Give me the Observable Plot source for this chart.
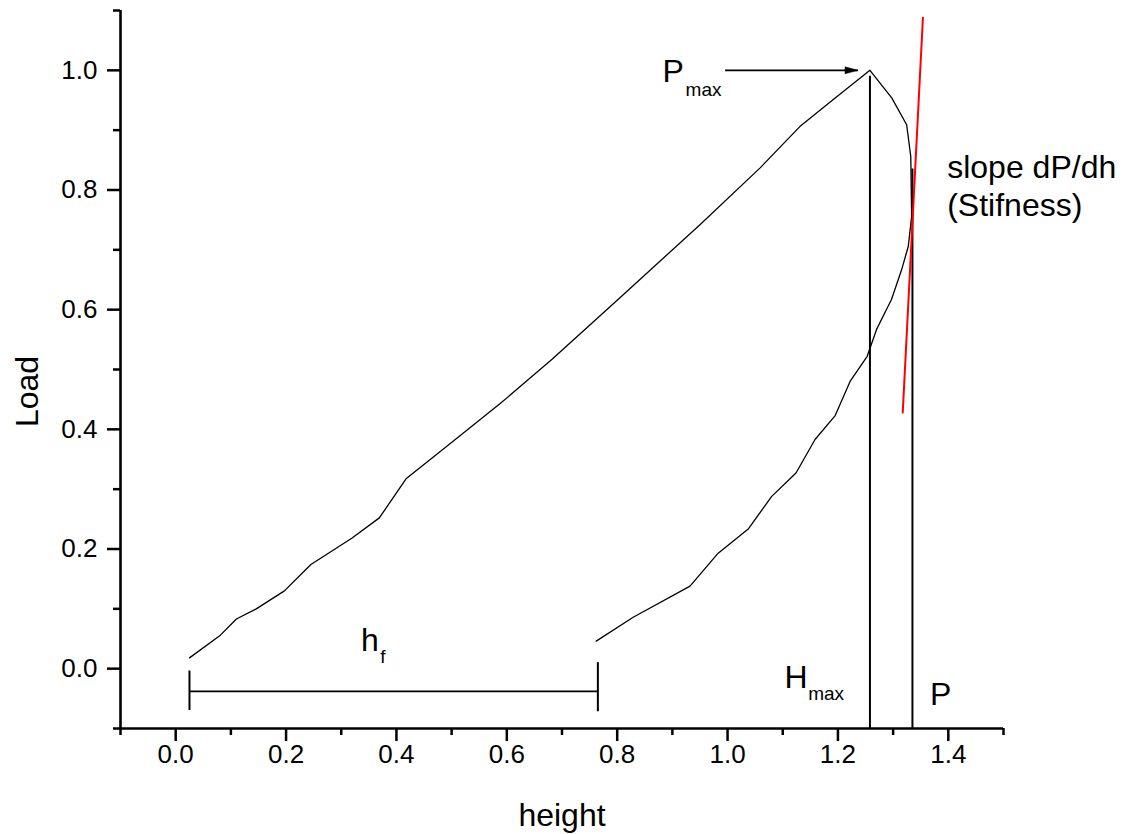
<!DOCTYPE html>
<html>
<head>
<meta charset="utf-8">
<script src="https://cdn.jsdelivr.net/npm/d3@7"></script>
<script src="https://cdn.jsdelivr.net/npm/@observablehq/plot@0.6"></script>
<style>
  body { margin: 0; background: #fff; }
  svg { display: block; }
</style>
</head>
<body>
<div id="chart"></div>
<script>
// ---- data ----
const loadingX = [0.025, 0.081, 0.110, 0.146, 0.197, 0.245, 0.319, 0.369, 0.418, 0.497, 0.588, 0.682, 0.805, 0.950, 1.059, 1.131, 1.191, 1.258];
const loadingY = [0.018, 0.056, 0.083, 0.100, 0.130, 0.174, 0.218, 0.252, 0.318, 0.376, 0.443, 0.517, 0.620, 0.742, 0.837, 0.906, 0.951, 1.000];

const unloadingX = [1.258, 1.2975, 1.3245, 1.332, 1.3335, 1.3275, 1.3155, 1.297, 1.270, 1.253, 1.222, 1.195, 1.1585, 1.124, 1.080, 1.038, 0.983, 0.932, 0.829, 0.762];
const unloadingY = [1.000, 0.954, 0.909, 0.856, 0.756, 0.706, 0.667, 0.617, 0.567, 0.522, 0.480, 0.423, 0.383, 0.327, 0.288, 0.234, 0.193, 0.138, 0.086, 0.046];

const tangentX = [1.3174, 1.354];
const tangentY = [0.428, 1.088];

const markerLineX = [1.258, 1.335];      // Hmax line, P line
const markerLineTop = [0.99, 0.835];

const bracketEnds = [0.025, 0.765];
const bracketCapTop = [-0.004, 0.010];
const bracketCapBottom = [-0.070, -0.072];
const bracketLevel = [-0.038];

const arrowStart = [0.9955];
const arrowTip = [1.2364];
const arrowLevel = [1.0];

const mainLabels = ["P", "h", "H", "P", "slope dP/dh", "(Stifness)"];
const mainLabelX = [0.882, 0.336, 1.103, 1.367, 1.398, 1.398];
const mainLabelY = [0.980, 0.029, -0.032, -0.060, 0.820, 0.757];

const subLabels = ["max", "f", "max"];
const subLabelX = [0.924, 0.3705, 1.146];
const subLabelY = [0.9566, 0.0095, -0.0518];

const xMajorTicks = [0.0, 0.2, 0.4, 0.6, 0.8, 1.0, 1.2, 1.4];
const xMinorTicks = [-0.1, 0.1, 0.3, 0.5, 0.7, 0.9, 1.1, 1.3, 1.5];
const yMajorTicks = [0.0, 0.2, 0.4, 0.6, 0.8, 1.0];
const yMinorTicks = [-0.1, 0.1, 0.3, 0.5, 0.7, 0.9, 1.1];

const xTitle = "height";
const yTitle = "Load";

// ---- build tables for the marks ----
const loading = loadingX.map((x, i) => ({x, y: loadingY[i]}));
const unloading = unloadingX.map((x, i) => ({x, y: unloadingY[i]}));
const tangent = tangentX.map((x, i) => ({x, y: tangentY[i]}));

const rightTriangle = {
  draw(context) {
    context.moveTo(0, 0);
    context.lineTo(-13, -3.5);
    context.lineTo(-13, 3.5);
    context.closePath();
  }
};

const fmt = d3.format(".1f");

const chart = Plot.plot({
  width: 1127,
  height: 834,
  marginLeft: 120,
  marginRight: 124,
  marginTop: 10,
  marginBottom: 106,
  style: {fontFamily: "'Liberation Sans', Arial, Helvetica, sans-serif", background: "#fff", color: "#000"},
  x: {domain: [-0.1, 1.5]},
  y: {domain: [-0.1, 1.1]},
  marks: [
    // axes
    Plot.axisX(xMinorTicks, {tickSize: 7, text: null, strokeWidth: 2.5, label: null}),
    Plot.axisX(xMajorTicks, {tickSize: 13, tickPadding: 3, tickFormat: fmt, fontSize: 26, strokeWidth: 2.5, label: null}),
    Plot.axisY(yMinorTicks, {tickSize: 7, text: null, strokeWidth: 2.5, label: null}),
    Plot.axisY(yMajorTicks, {tickSize: 13, tickPadding: 10, tickFormat: fmt, fontSize: 26, strokeWidth: 2.5, label: null}),
    Plot.ruleX([-0.1], {stroke: "#000", strokeWidth: 2.6}),
    Plot.ruleY([-0.1], {stroke: "#000", strokeWidth: 2.6}),
    Plot.text([xTitle], {text: d => d, frameAnchor: "bottom", textAnchor: "middle", dy: 97, lineAnchor: "bottom", fontSize: 32, fill: "#000"}),
    Plot.text([yTitle], {text: d => d, frameAnchor: "left", textAnchor: "middle", rotate: -90, dx: -83, dy: 22, lineAnchor: "bottom", fontSize: 32, fill: "#000"}),

    // curves
    Plot.line(loading, {x: "x", y: "y", stroke: "#000", strokeWidth: 1.3}),
    Plot.line(unloading, {x: "x", y: "y", stroke: "#000", strokeWidth: 1.3}),

    // vertical marker lines
    Plot.ruleX(markerLineX, {x: d => d, y1: -0.1, y2: (d, i) => markerLineTop[i], stroke: "#000", strokeWidth: 2}),

    // tangent (stiffness)
    Plot.line(tangent, {x: "x", y: "y", stroke: "#ff0000", strokeWidth: 2}),

    // h_f bracket
    Plot.ruleY(bracketLevel, {y: d => d, x1: bracketEnds[0], x2: bracketEnds[1], stroke: "#000", strokeWidth: 1.6}),
    Plot.ruleX(bracketEnds, {x: d => d, y1: (d, i) => bracketCapTop[i], y2: (d, i) => bracketCapBottom[i], stroke: "#000", strokeWidth: 2}),

    // Pmax arrow
    Plot.link(arrowStart, {x1: d => d, x2: (d, i) => arrowTip[i], y1: (d, i) => arrowLevel[i], y2: (d, i) => arrowLevel[i], stroke: "#000", strokeWidth: 1.6}),
    Plot.dot(arrowTip, {x: d => d, y: (d, i) => arrowLevel[i], symbol: rightTriangle, fill: "#000", stroke: "#000", strokeWidth: 0.5}),

    // labels
    Plot.text(mainLabels, {x: mainLabelX, y: mainLabelY, text: mainLabels, textAnchor: "start", lineAnchor: "bottom", fontSize: 32, fill: "#000"}),
    Plot.text(subLabels, {x: subLabelX, y: subLabelY, text: subLabels, textAnchor: "start", lineAnchor: "bottom", fontSize: 19, fill: "#000"})
  ]
});

document.getElementById("chart").appendChild(chart);
</script>
</body>
</html>
